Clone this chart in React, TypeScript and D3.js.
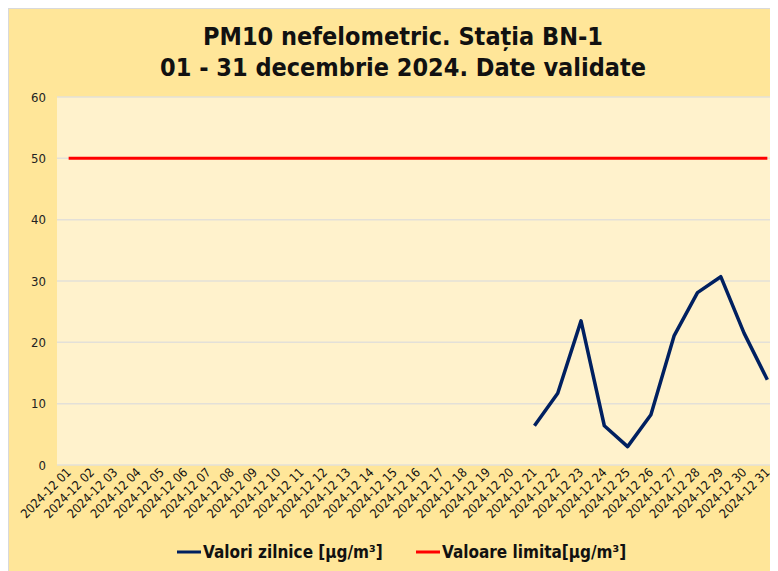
import React, { useEffect, useRef } from 'react';
import * as d3 from 'd3';

// Categories: every day of December 2024
const days: string[] = [
  '01', '02', '03', '04', '05', '06', '07', '08', '09', '10',
  '11', '12', '13', '14', '15', '16', '17', '18', '19', '20',
  '21', '22', '23', '24', '25', '26', '27', '28', '29', '30', '31',
];
const dayLabels: string[] = days.map(d => '2024-12 ' + d);

// Daily values (only 21..31 are available), null = missing
const dailyValues: (number | null)[] = [
  null, null, null, null, null, null, null, null, null, null,
  null, null, null, null, null, null, null, null, null, null,
  6.4, 11.7, 23.5, 6.4, 3.0, 8.2, 21.1, 28.1, 30.7, 21.5, 13.9,
];
const limitValues: number[] = days.map(() => 50);

const yTicks: number[] = [0, 10, 20, 30, 40, 50, 60];
const titleLines: string[] = [
  'PM10 nefelometric. Stația BN-1',
  '01 - 31 decembrie 2024. Date validate',
];
const seriesNames: string[] = ['Valori zilnice [µg/m³]', 'Valoare limita[µg/m³]'];

const App = () => {
  const ref = useRef<SVGSVGElement>(null);

  useEffect(() => {
    const width = 770;
    const height = 563;
    const margin = { top: 89, right: -1, bottom: 106, left: 49 };
    const innerW = width - margin.left - margin.right;
    const innerH = height - margin.top - margin.bottom;
    const font = "'DejaVu Sans Condensed', 'DejaVu Sans', sans-serif";

    const svg = d3.select(ref.current);
    svg.selectAll('*').remove();

    // outer chart area
    svg.append('rect')
      .attr('x', 0.5).attr('y', 0.5)
      .attr('width', width + 10).attr('height', height + 10)
      .attr('fill', '#FFE699')
      .attr('stroke', '#D9D9D9');

    // title
    svg.append('text')
      .attr('text-anchor', 'middle')
      .attr('font-family', font)
      .attr('font-weight', 'bold')
      .attr('font-size', 25)
      .attr('fill', '#111')
      .selectAll('tspan')
      .data(titleLines)
      .enter().append('tspan')
      .attr('x', 395)
      .attr('y', (d, i) => 37 + i * 31)
      .text(d => d);

    const g = svg.append('g')
      .attr('transform', 'translate(' + margin.left + ',' + margin.top + ')');

    g.append('rect')
      .attr('width', innerW).attr('height', innerH)
      .attr('fill', '#FFF2CC');

    const x = d3.scaleBand()
      .domain(days)
      .range([0, innerW]);

    const y = d3.scaleLinear()
      .domain([0, 60])
      .range([innerH, 0]);

    // grid lines
    g.selectAll('.grid')
      .data(yTicks)
      .enter().append('line')
      .attr('x1', 0).attr('x2', innerW)
      .attr('y1', d => y(d)).attr('y2', d => y(d))
      .attr('stroke', '#E3E0D8')
      .attr('stroke-width', 1.5);

    // y axis
    const yAxis = g.append('g')
      .call(d3.axisLeft(y).tickValues(yTicks).tickSize(0).tickPadding(11));
    yAxis.select('.domain').remove();
    yAxis.selectAll('text')
      .attr('font-family', font)
      .attr('font-size', 13)
      .attr('fill', '#222');

    // x axis
    const xAxis = g.append('g')
      .attr('transform', 'translate(0,' + innerH + ')')
      .call(d3.axisBottom(x).tickFormat((d, i) => dayLabels[i]).tickSize(0));
    xAxis.select('.domain').remove();
    xAxis.selectAll('text')
      .attr('font-family', font)
      .attr('font-size', 12.5)
      .attr('fill', '#111')
      .attr('text-anchor', 'end')
      .attr('dy', 0)
      .attr('transform', 'translate(1,6) rotate(-45)');

    const cx = (i: number) => (x(days[i]) as number) + x.bandwidth() / 2;

    // limit line
    const limitLine = d3.line<number>()
      .x((d, i) => cx(i))
      .y(d => y(d));
    g.append('path')
      .datum(limitValues)
      .attr('fill', 'none')
      .attr('stroke', '#FF0000')
      .attr('stroke-width', 3)
      .attr('d', limitLine);

    // daily values
    const dailyLine = d3.line<number | null>()
      .defined(d => d !== null)
      .x((d, i) => cx(i))
      .y(d => y(d as number));
    g.append('path')
      .datum(dailyValues)
      .attr('fill', 'none')
      .attr('stroke', '#002060')
      .attr('stroke-width', 3.5)
      .attr('stroke-linejoin', 'round')
      .attr('d', dailyLine);

    // legend
    const legendColors = ['#002060', '#FF0000'];
    const legendX = [169, 408];
    const legend = svg.selectAll('.legend')
      .data(seriesNames)
      .enter().append('g')
      .attr('transform', (d, i) => 'translate(' + legendX[i] + ',544)');
    legend.append('line')
      .attr('x1', 0).attr('x2', 24)
      .attr('stroke', (d, i) => legendColors[i])
      .attr('stroke-width', 3);
    legend.append('text')
      .attr('x', 26)
      .attr('dy', '0.36em')
      .attr('font-family', font)
      .attr('font-weight', 'bold')
      .attr('font-size', 17)
      .attr('fill', '#111')
      .text(d => d);
  }, []);

  return (
    <svg ref={ref} width={770} height={563} style={{ display: 'block' }} />
  );
};

export default App;
